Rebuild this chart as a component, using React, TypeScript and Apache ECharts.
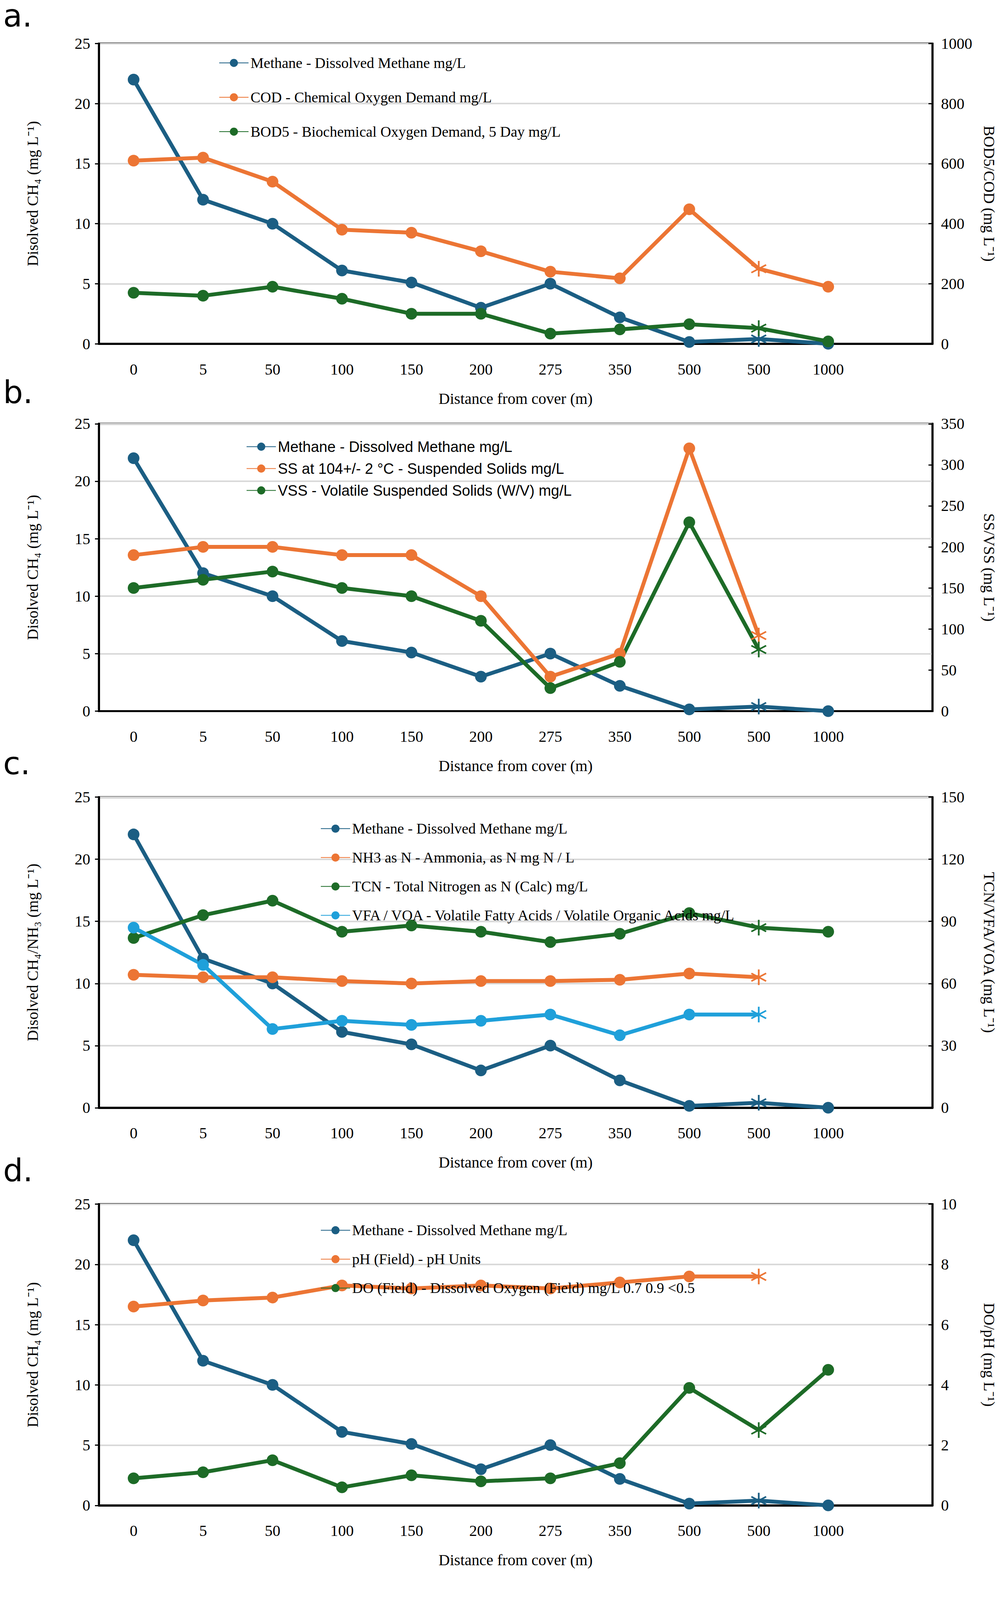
import React, { useEffect, useRef } from "react";
import * as echarts from "echarts";

const categories = ["0", "5", "50", "100", "150", "200", "275", "350", "500", "500", "1000", ""];
const starIndex = 9;

const methane = [22, 12, 10, 6.1, 5.1, 3, 5, 2.2, 0.15, 0.4, 0.0];
// panel a
const cod = [610, 620, 540, 380, 370, 308, 240, 218, 448, 250, 190];
const bod5 = [170, 160, 190, 150, 100, 100, 34, 48, 65, 52, 8];
// panel b
const ss = [190, 200, 200, 190, 190, 140, 42, 70, 320, 92];
const vss = [150, 160, 170, 150, 140, 110, 28, 60, 230, 75];
// panel c
const nh3 = [10.7, 10.5, 10.5, 10.2, 10.0, 10.2, 10.2, 10.3, 10.8, 10.5];
const tcn = [82, 93, 100, 85, 88, 85, 80, 84, 94, 87, 85];
const vfa = [87, 69, 38, 42, 40, 42, 45, 35, 45, 45];
// panel d
const ph = [6.6, 6.8, 6.9, 7.3, 7.2, 7.3, 7.2, 7.4, 7.6, 7.6];
const dOxygen = [0.9, 1.1, 1.5, 0.6, 1.0, 0.8, 0.9, 1.4, 3.9, 2.5, 4.5];

const BLUE = "#1B5E83";
const ORANGE = "#EC7534";
const GREEN = "#1D6B27";
const LIGHT = "#1FA0DA";

const STAR =
  "path://M-1,-10L1,-10L1,10L-1,10Z M8.16,-5.87L9.16,-4.13L-8.16,5.87L-9.16,4.13Z M-9.16,-4.13L-8.16,-5.87L9.16,4.13L8.16,5.87Z";

const SERIF = "Liberation Serif";
const SANS = "Liberation Sans";

const H = 4482;
const pct = (v: number) => `${((v / H) * 100).toFixed(3)}%`;

const panels = [
  { top: 122, height: 841, rightMax: 1000, rightInt: 200, leftName: "Disolved CH₄ (mg L⁻¹)", rightName: "BOD5/COD (mg L⁻¹)", label: "a.", labelY: 0, legTop: 150, legGap: 50, legFont: SERIF },
  { top: 1187, height: 805, rightMax: 350, rightInt: 50, leftName: "Disolved CH₄ (mg L⁻¹)", rightName: "SS/VSS (mg L⁻¹)", label: "b.", labelY: 1055, legTop: 1225, legGap: 18, legFont: SANS },
  { top: 2233, height: 870, rightMax: 150, rightInt: 30, leftName: "Disolved CH₄/NH₃ (mg L⁻¹)", rightName: "TCN/VFA/VOA (mg L⁻¹)", label: "c.", labelY: 2095, legTop: 2295, legGap: 36, legFont: SERIF },
  { top: 3373, height: 844, rightMax: 10, rightInt: 2, leftName: "Disolved CH₄ (mg L⁻¹)", rightName: "DO/pH (mg L⁻¹)", label: "d.", labelY: 3235, legTop: 3420, legGap: 36, legFont: SERIF },
];
const legLeft = [555, 625, 815, 815];

const mkData = (vals: number[]) =>
  vals.map((v, i) =>
    i === starIndex ? { value: v, symbol: STAR, symbolSize: 40 } : v
  );

const line = (name: string, vals: number[], color: string, p: number, right: boolean) => ({
  name,
  type: "line",
  xAxisIndex: p,
  yAxisIndex: p * 2 + (right ? 1 : 0),
  data: mkData(vals),
  symbol: "circle",
  symbolSize: 30,
  lineStyle: { color, width: 10 },
  itemStyle: { color },
});

const App: React.FC = () => {
  const ref = useRef<HTMLDivElement>(null);

  useEffect(() => {
    document.body.style.margin = "0";
    if (!ref.current) return;
    const chart = echarts.init(ref.current, null, { renderer: "svg" });

    const grid = panels.map((p) => ({
      left: 253,
      right: 135,
      top: pct(p.top),
      height: pct(p.height),
      show: true,
      borderColor: "#000",
      borderWidth: 5,
    }));

    const xAxis = panels.map((_, i) => ({
      type: "category",
      gridIndex: i,
      data: categories,
      axisLine: { lineStyle: { color: "#000", width: 5 } },
      axisTick: { inside: true, length: 18, lineStyle: { color: "#000", width: 4 } },
      axisLabel: { fontFamily: SERIF, fontSize: 40, color: "#000", margin: 45 },
      name: "Distance from cover (m)",
      nameLocation: "middle",
      nameGap: 120,
      nameTextStyle: { fontFamily: SERIF, fontSize: 40, color: "#000" },
    }));

    const yAxis: any[] = [];
    panels.forEach((p, i) => {
      yAxis.push({
        type: "value",
        gridIndex: i,
        min: 0,
        max: 25,
        interval: 5,
        axisLine: { show: true, lineStyle: { color: "#000", width: 5 } },
        axisTick: { show: true, length: 10, lineStyle: { color: "#000", width: 3 } },
        axisLabel: { fontFamily: SERIF, fontSize: 40, color: "#000", margin: 22 },
        splitLine: { lineStyle: { color: "#d9d9d9", width: 4 } },
        name: p.leftName,
        nameLocation: "middle",
        nameGap: 150,
        nameTextStyle: { fontFamily: SERIF, fontSize: 40, color: "#000" },
      });
      yAxis.push({
        type: "value",
        gridIndex: i,
        position: "right",
        min: 0,
        max: p.rightMax,
        interval: p.rightInt,
        axisLine: { show: true, lineStyle: { color: "#000", width: 5 } },
        axisTick: { show: true, inside: true, length: 10, lineStyle: { color: "#000", width: 3 } },
        axisLabel: { fontFamily: SERIF, fontSize: 40, color: "#000", margin: 22, formatter: (v: number) => String(v) },
        splitLine: { show: false },
        name: p.rightName,
        nameLocation: "middle",
        nameGap: 125,
        nameRotate: -90,
        nameTextStyle: { fontFamily: SERIF, fontSize: 40, color: "#000" },
      });
    });

    const mName = "Methane - Dissolved Methane mg/L";
    const series = [
      line(mName, methane, BLUE, 0, false),
      line("COD - Chemical Oxygen Demand mg/L", cod, ORANGE, 0, true),
      line("BOD5 - Biochemical Oxygen Demand, 5 Day mg/L", bod5, GREEN, 0, true),
      line(mName + " ", methane, BLUE, 1, false),
      line("SS at 104+/- 2 °C - Suspended Solids mg/L", ss, ORANGE, 1, true),
      line("VSS - Volatile Suspended Solids (W/V) mg/L", vss, GREEN, 1, true),
      line(mName + "  ", methane, BLUE, 2, false),
      line("NH3 as N - Ammonia, as N mg N / L", nh3, ORANGE, 2, false),
      line("TCN - Total Nitrogen as N (Calc) mg/L", tcn, GREEN, 2, true),
      line("VFA / VOA - Volatile Fatty Acids / Volatile Organic Acids mg/L", vfa, LIGHT, 2, true),
      line(mName + "   ", methane, BLUE, 3, false),
      line("pH (Field) - pH Units", ph, ORANGE, 3, true),
      line("DO (Field) - Dissolved Oxygen (Field) mg/L 0.7 0.9 <0.5", dOxygen, GREEN, 3, true),
    ];
    const slices = [[0, 3], [3, 6], [6, 10], [10, 13]];

    const legend = panels.map((p, i) => ({
      orient: "vertical",
      left: legLeft[i],
      top: pct(p.legTop),
      itemGap: p.legGap,
      itemWidth: 75,
      itemHeight: 26,
      data: series.slice(slices[i][0], slices[i][1]).map((s) => s.name),
      formatter: (n: string) => n.trim(),
      textStyle: { fontFamily: p.legFont, fontSize: 38, color: "#000" },
    }));

    const graphic = panels.map((p) => ({
      type: "text",
      left: 8,
      top: pct(p.labelY),
      style: { text: p.label, font: "80px 'DejaVu Sans'", fill: "#000" },
    }));

    chart.setOption({
      animation: false,
      backgroundColor: "#fff",
      grid,
      xAxis,
      yAxis,
      legend,
      graphic,
      series,
    } as any);

    return () => chart.dispose();
  }, []);

  return <div ref={ref} style={{ width: "100vw", height: "100vh", maxWidth: 2559, maxHeight: 4482 }} />;
};

export default App;
